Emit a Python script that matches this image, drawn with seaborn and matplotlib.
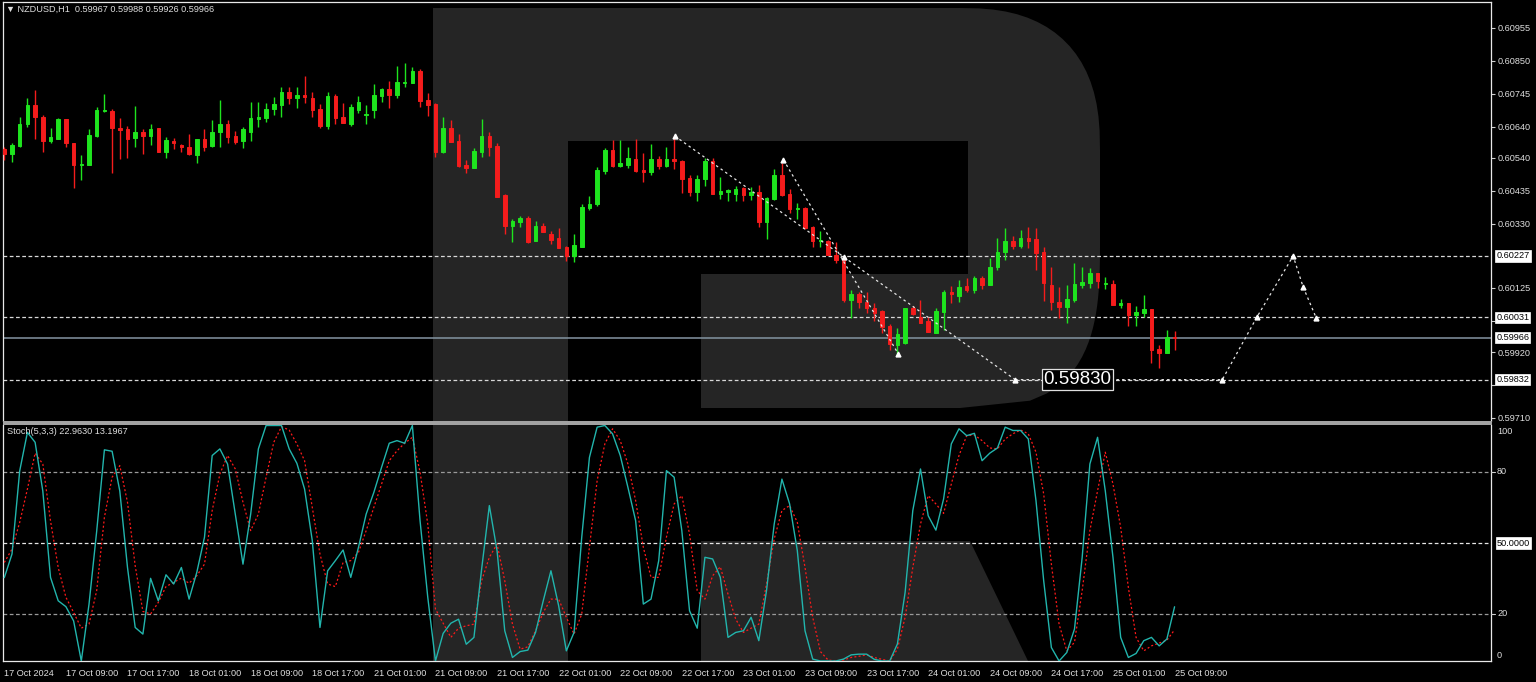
import numpy as np
import pandas as pd
import matplotlib
matplotlib.use('Agg')
import matplotlib.pyplot as plt
import matplotlib.transforms as mtransforms
from matplotlib.patches import Polygon, Rectangle
import seaborn as sns

sns.set_style('dark')
plt.rcParams['font.family'] = ['Liberation Sans', 'DejaVu Sans']

# NZDUSD H1, bars 17 Oct 01:00 .. 25 Oct 09:00 (index 0..152)
opens = [0.60568, 0.60552, 0.60578, 0.60648, 0.60709, 0.60672, 0.60594, 0.60600, 0.60663, 0.60589,
         0.60517, 0.60517, 0.60610, 0.60690, 0.60690, 0.60635, 0.60632, 0.60603, 0.60623, 0.60611,
         0.60635, 0.60559, 0.60595, 0.60581, 0.60575, 0.60550, 0.60600, 0.60579, 0.60623, 0.60650,
         0.60610, 0.60594, 0.60624, 0.60664, 0.60668, 0.60695, 0.60710, 0.60751, 0.60732, 0.60740,
         0.60733, 0.60695, 0.60642, 0.60738, 0.60671, 0.60650, 0.60693, 0.60676, 0.60693, 0.60739,
         0.60760, 0.60740, 0.60779, 0.60779, 0.60817, 0.60725, 0.60712, 0.60558, 0.60635, 0.60595,
         0.60517, 0.60509, 0.60559, 0.60610, 0.60579, 0.60422, 0.60323, 0.60334, 0.60349, 0.60275,
         0.60323, 0.60297, 0.60285, 0.60256, 0.60228, 0.60255, 0.60379, 0.60392, 0.60499, 0.60565,
         0.60515, 0.60518, 0.60537, 0.60502, 0.60494, 0.60536, 0.60515, 0.60536, 0.60530, 0.60475,
         0.60432, 0.60473, 0.60530, 0.60424, 0.60432, 0.60424, 0.60443, 0.60422, 0.60432, 0.60336,
         0.60410, 0.60485, 0.60425, 0.60376, 0.60379, 0.60318, 0.60275, 0.60275, 0.60230, 0.60214,
         0.60086, 0.60106, 0.60081, 0.60062, 0.60052, 0.60003, 0.59944, 0.59948, 0.60060, 0.60033,
         0.60019, 0.59980, 0.60049, 0.60111, 0.60099, 0.60131, 0.60118, 0.60156, 0.60134, 0.60191,
         0.60239, 0.60275, 0.60260, 0.60285, 0.60281, 0.60239, 0.60134, 0.60081, 0.60065, 0.60087,
         0.60134, 0.60142, 0.60172, 0.60137, 0.60136, 0.60070, 0.60076, 0.60039, 0.60044, 0.60057,
         0.59929, 0.59918, 0.59967]
highs = [0.60574, 0.60589, 0.60670, 0.60732, 0.60757, 0.60677, 0.60635, 0.60666, 0.60665, 0.60589,
         0.60549, 0.60632, 0.60703, 0.60744, 0.60695, 0.60668, 0.60643, 0.60706, 0.60631, 0.60650,
         0.60636, 0.60606, 0.60603, 0.60583, 0.60616, 0.60601, 0.60631, 0.60660, 0.60725, 0.60661,
         0.60626, 0.60638, 0.60718, 0.60718, 0.60716, 0.60734, 0.60765, 0.60765, 0.60767, 0.60801,
         0.60751, 0.60712, 0.60751, 0.60743, 0.60715, 0.60713, 0.60738, 0.60709, 0.60776, 0.60762,
         0.60785, 0.60833, 0.60842, 0.60829, 0.60823, 0.60749, 0.60714, 0.60672, 0.60660, 0.60616,
         0.60533, 0.60571, 0.60663, 0.60623, 0.60587, 0.60424, 0.60345, 0.60355, 0.60356, 0.60339,
         0.60333, 0.60308, 0.60317, 0.60259, 0.60296, 0.60393, 0.60419, 0.60512, 0.60571, 0.60597,
         0.60597, 0.60576, 0.60600, 0.60555, 0.60584, 0.60547, 0.60576, 0.60610, 0.60532, 0.60485,
         0.60485, 0.60539, 0.60539, 0.60480, 0.60440, 0.60451, 0.60448, 0.60448, 0.60453, 0.60415,
         0.60505, 0.60523, 0.60440, 0.60395, 0.60382, 0.60323, 0.60307, 0.60278, 0.60272, 0.60225,
         0.60118, 0.60113, 0.60113, 0.60078, 0.60054, 0.60010, 0.59996, 0.60062, 0.60068, 0.60086,
         0.60033, 0.60060, 0.60118, 0.60132, 0.60151, 0.60158, 0.60163, 0.60163, 0.60220, 0.60284,
         0.60315, 0.60291, 0.60310, 0.60320, 0.60315, 0.60256, 0.60193, 0.60129, 0.60134, 0.60204,
         0.60193, 0.60188, 0.60174, 0.60161, 0.60151, 0.60090, 0.60078, 0.60068, 0.60102, 0.60059,
         0.59943, 0.59991, 0.59988]
lows = [0.60533, 0.60528, 0.60574, 0.60640, 0.60599, 0.60559, 0.60589, 0.60600, 0.60576, 0.60445,
        0.60469, 0.60517, 0.60608, 0.60687, 0.60491, 0.60537, 0.60541, 0.60576, 0.60552, 0.60580,
        0.60559, 0.60541, 0.60567, 0.60559, 0.60549, 0.60525, 0.60562, 0.60576, 0.60576, 0.60589,
        0.60583, 0.60573, 0.60595, 0.60640, 0.60656, 0.60677, 0.60672, 0.60712, 0.60700, 0.60716,
        0.60670, 0.60635, 0.60632, 0.60649, 0.60652, 0.60642, 0.60684, 0.60648, 0.60668, 0.60719,
        0.60700, 0.60731, 0.60767, 0.60779, 0.60703, 0.60675, 0.60544, 0.60555, 0.60592, 0.60510,
        0.60491, 0.60509, 0.60544, 0.60546, 0.60414, 0.60297, 0.60272, 0.60320, 0.60269, 0.60275,
        0.60302, 0.60265, 0.60253, 0.60211, 0.60207, 0.60255, 0.60374, 0.60386, 0.60489, 0.60510,
        0.60512, 0.60509, 0.60496, 0.60464, 0.60485, 0.60504, 0.60512, 0.60504, 0.60427, 0.60418,
        0.60403, 0.60451, 0.60424, 0.60408, 0.60402, 0.60402, 0.60402, 0.60406, 0.60318, 0.60281,
        0.60406, 0.60418, 0.60365, 0.60345, 0.60313, 0.60256, 0.60256, 0.60230, 0.60204, 0.60081,
        0.60030, 0.60060, 0.60044, 0.60019, 0.59980, 0.59927, 0.59908, 0.59946, 0.60039, 0.60012,
        0.59983, 0.59980, 0.59991, 0.60076, 0.60081, 0.60113, 0.60108, 0.60122, 0.60134, 0.60182,
        0.60214, 0.60248, 0.60251, 0.60251, 0.60182, 0.60084, 0.60054, 0.60028, 0.60012, 0.60081,
        0.60124, 0.60126, 0.60126, 0.60122, 0.60070, 0.60060, 0.60003, 0.60003, 0.60031, 0.59886,
        0.59868, 0.59916, 0.59926]
closes = [0.60552, 0.60581, 0.60647, 0.60709, 0.60672, 0.60595, 0.60606, 0.60663, 0.60587, 0.60517,
          0.60521, 0.60613, 0.60693, 0.60693, 0.60636, 0.60630, 0.60600, 0.60623, 0.60611, 0.60632,
          0.60559, 0.60597, 0.60589, 0.60574, 0.60552, 0.60600, 0.60576, 0.60623, 0.60650, 0.60608,
          0.60592, 0.60632, 0.60668, 0.60672, 0.60695, 0.60713, 0.60751, 0.60732, 0.60740, 0.60735,
          0.60693, 0.60642, 0.60738, 0.60668, 0.60652, 0.60703, 0.60718, 0.60679, 0.60740, 0.60760,
          0.60741, 0.60782, 0.60782, 0.60817, 0.60722, 0.60710, 0.60558, 0.60635, 0.60592, 0.60514,
          0.60509, 0.60562, 0.60610, 0.60574, 0.60416, 0.60323, 0.60339, 0.60349, 0.60272, 0.60323,
          0.60302, 0.60278, 0.60253, 0.60227, 0.60262, 0.60382, 0.60392, 0.60501, 0.60565, 0.60515,
          0.60523, 0.60540, 0.60499, 0.60494, 0.60536, 0.60515, 0.60536, 0.60530, 0.60473, 0.60432,
          0.60472, 0.60530, 0.60424, 0.60434, 0.60437, 0.60440, 0.60422, 0.60432, 0.60334, 0.60413,
          0.60485, 0.60422, 0.60376, 0.60379, 0.60317, 0.60275, 0.60278, 0.60230, 0.60214, 0.60086,
          0.60106, 0.60081, 0.60060, 0.60046, 0.60001, 0.59946, 0.59978, 0.60060, 0.60041, 0.60014,
          0.59983, 0.60052, 0.60113, 0.60106, 0.60129, 0.60118, 0.60158, 0.60134, 0.60193, 0.60241,
          0.60275, 0.60260, 0.60283, 0.60275, 0.60235, 0.60140, 0.60081, 0.60065, 0.60090, 0.60136,
          0.60145, 0.60172, 0.60147, 0.60142, 0.60070, 0.60076, 0.60039, 0.60049, 0.60057, 0.59927,
          0.59918, 0.59967, 0.59966]

# Stoch(5,3,3): main line and signal line
stoch_k = [35.3, 45.3, 80.5, 96.8, 92.6, 72.0, 35.4, 25.5, 23.0, 17.0, 0.0, 24.0, 55.0, 89.4, 88.8,
           72.0, 39.6, 14.2, 11.4, 35.0, 25.5, 36.5, 32.6, 39.6, 26.2, 37.5, 52.4, 87.0, 89.8, 83.4,
           62.2, 41.0, 62.2, 89.8, 99.7, 99.7, 99.7, 89.8, 83.7, 72.8, 51.0, 14.2, 38.2, 42.5, 47.0,
           35.4, 48.1, 62.2, 71.4, 82.0, 92.2, 93.3, 92.2, 99.7, 59.4, 27.0, 0.0, 11.7, 16.0, 17.7,
           7.1, 10.0, 39.0, 65.8, 46.7, 12.8, 1.5, 4.0, 4.6, 12.1, 25.5, 38.2, 23.4, 4.3, 12.1,
           52.4, 86.2, 99.0, 99.7, 96.2, 87.0, 73.5, 59.4, 24.1, 26.2, 42.5, 80.6, 77.8, 55.2, 21.3,
           13.9, 43.9, 43.2, 35.4, 10.0, 12.1, 12.8, 18.5, 8.6, 29.8, 58.0, 77.0, 66.5, 46.7, 12.8,
           0.8, 0.0, 0.0, 0.0, 0.8, 2.6, 2.9, 2.9, 0.7, 0.0, 0.0, 7.2, 29.0, 63.7, 81.3,
           61.5, 55.4, 68.6, 91.9, 98.3, 95.4, 96.4, 84.8, 88.0, 90.2, 99.0, 97.6, 97.6, 94.0, 67.9,
           34.0, 5.7, 0.0, 3.6, 13.5, 43.9, 83.4, 94.7, 72.1, 43.9, 10.0, 1.5, 3.2, 8.6, 10.0,
           6.4, 9.3, 22.96]
stoch_d = [41.7, 47.4, 58.7, 72.8, 88.0, 83.4, 59.4, 39.6, 27.0, 20.6, 13.9, 15.6, 29.8, 60.8, 77.8,
           82.7, 67.2, 40.3, 21.0, 19.9, 24.8, 31.5, 33.3, 35.1, 32.9, 36.1, 41.0, 63.7, 79.2, 87.0,
           81.3, 67.2, 55.2, 62.2, 77.8, 92.6, 99.2, 97.8, 91.9, 84.8, 65.0, 45.3, 32.6, 31.5, 41.7,
           42.5, 46.0, 55.2, 65.0, 74.9, 84.8, 89.0, 92.2, 94.7, 80.0, 58.0, 22.0, 16.0, 10.0, 13.9,
           14.9, 15.6, 34.0, 43.9, 49.5, 34.0, 15.6, 5.0, 6.0, 12.8, 20.6, 26.2, 26.2, 18.5, 11.4,
           19.9, 48.1, 76.4, 91.9, 98.3, 93.3, 83.4, 67.9, 48.1, 35.4, 35.4, 52.4, 66.5, 70.0, 53.8,
           29.8, 26.2, 36.1, 39.9, 28.3, 17.7, 12.1, 13.9, 15.6, 32.6, 51.7, 63.7, 65.8, 58.7, 39.6,
           18.5, 4.0, 0.4, 0.0, 0.4, 1.5, 2.0, 2.6, 1.5, 0.7, 0.0, 5.0, 18.5, 39.6, 58.0,
           70.0, 66.5, 62.5, 74.9, 87.0, 95.4, 95.7, 93.3, 90.2, 89.8, 94.0, 96.2, 97.8, 96.2, 88.4,
           70.7, 41.0, 15.6, 4.3, 7.9, 29.8, 55.2, 72.1, 88.4, 74.9, 56.6, 31.1, 10.0, 4.3, 6.4,
           7.6, 8.8, 13.2]

tick_bars = [0, 8, 16, 24, 32, 40, 48, 56, 64, 72, 80, 88, 96, 104, 112, 120, 128, 136, 144, 152]
tick_labels = ['17 Oct 2024', '17 Oct 09:00', '17 Oct 17:00', '18 Oct 01:00', '18 Oct 09:00',
               '18 Oct 17:00', '21 Oct 01:00', '21 Oct 09:00', '21 Oct 17:00', '22 Oct 01:00',
               '22 Oct 09:00', '22 Oct 17:00', '23 Oct 01:00', '23 Oct 09:00', '23 Oct 17:00',
               '24 Oct 01:00', '24 Oct 09:00', '24 Oct 17:00', '25 Oct 01:00', '25 Oct 09:00']
price_ticks = [0.60955, 0.60850, 0.60745, 0.60640, 0.60540, 0.60435, 0.60330,
               0.60125, 0.60020, 0.59920, 0.59815, 0.59710]
hidden_ticks = [0.60020, 0.59815]  # covered by the line labels
level_lines = [0.60227, 0.60031, 0.59832]
bid_price = 0.59966

# analysis drawings (bar index, price)
trend_a_bar = [87.1, 131.3]
trend_a_price = [0.60610, 0.59832]
trend_b_bar = [101.2, 116.1]
trend_b_price = [0.60534, 0.59915]
path_bar = [131.3, 158.2, 162.7, 167.4, 168.7, 170.4]
path_price = [0.59832, 0.59832, 0.60032, 0.60227, 0.60128, 0.60029]
mark_bar = [87.1, 101.2, 109.0, 116.1, 131.3, 158.2, 162.7, 167.4, 168.7, 170.4]
mark_price = [0.60610, 0.60534, 0.60224, 0.59915, 0.59832, 0.59832, 0.60032, 0.60227, 0.60128, 0.60029]
target_bar, target_price, target_text = 139.4, 0.59832, '0.59830'

W, H = 1536, 682
GREEN, RED = '#1ee41e', '#f41c1c'
TXT = '#dedede'
WM = '#252525'


def rect(l, t, r, b):
    return [l / W, 1 - b / H, (r - l) / W, (b - t) / H]


def fpt(x, y):
    return (x / W, 1 - y / H)


fig = plt.figure(figsize=(W / 100, H / 100), dpi=100, facecolor='black')

# watermark logo behind the chart
bowl = [(433, 8), (960, 8)]
for t in np.linspace(0, 1, 20):
    a = t * np.pi / 2
    bowl.append((960 + 140 * np.sin(a) ** 0.8, 150 - 142 * np.cos(a) ** 0.8))
for t in np.linspace(0, 1, 24):
    bowl.append((960 + 140 * (1 - t ** 3) ** (1 / 3), 240 + 168 * t))
bowl += [(701, 408), (701, 274), (968, 274), (968, 141), (568, 141), (568, 661), (433, 661)]
fig.add_artist(Polygon([fpt(*p) for p in bowl], closed=True, fc=WM, ec='none',
                       transform=fig.transFigure, zorder=-10))
leg = [(701, 541), (970, 541), (1028, 661), (701, 661)]
fig.add_artist(Polygon([fpt(*p) for p in leg], closed=True, fc=WM, ec='none',
                       transform=fig.transFigure, zorder=-10))

ax = fig.add_axes(rect(3, 2, 1491, 421))
ax2 = fig.add_axes(rect(3, 424.8, 1491, 661))
for a in (ax, ax2):
    a.set_facecolor('none')
    a.grid(False)
    a.set_xlim(-0.17, 193.1)
    for s in a.spines.values():
        s.set_color('#e8e8e8')
        s.set_linewidth(0.9)

# ---- candles
df = pd.DataFrame({'bar': np.arange(len(opens)), 'open': opens, 'high': highs,
                   'low': lows, 'close': closes})
cols = np.where(df['close'] >= df['open'], GREEN, RED)
ax.vlines(df['bar'], df['low'], df['high'], colors=cols, lw=1.0, zorder=3)
body = (df['close'] - df['open']).abs().clip(lower=1e-6)
ax.bar(df['bar'], body, bottom=df[['open', 'close']].min(axis=1), width=0.46,
       color=cols, edgecolor=cols, linewidth=0.7, zorder=4)

dash = (0, (3, 2))
for lv in level_lines:
    ax.axhline(lv, color='#d8d8d8', lw=0.9, ls=dash, zorder=2)
ax.axhline(bid_price, color='#8494a2', lw=1.1, zorder=2)

ax.plot(trend_a_bar, trend_a_price, color='#e4e4e4', lw=0.9, ls=(0, (2, 2.5)), zorder=5)
ax.plot(trend_b_bar, trend_b_price, color='#e4e4e4', lw=0.9, ls=(0, (2, 2.5)), zorder=5)
ax.plot(path_bar, path_price, color='#e4e4e4', lw=0.9, ls=(0, (2, 2.5)), zorder=5)
ax.plot(mark_bar, mark_price, ls='none', marker='^', ms=3.5, color='white', zorder=6)
ax.text(target_bar, target_price, target_text, color='white', fontsize=13.5,
        ha='center', va='center', zorder=7,
        bbox=dict(boxstyle='square,pad=0.1', fc='black', ec='#e0e0e0', lw=0.9))

ax.set_ylim(0.59700, 0.61038)
ax.set_xticks([])
ax.yaxis.tick_right()
ax.set_yticks(price_ticks)
ax.set_yticklabels(['' if p in hidden_ticks else f'{p:.5f}' for p in price_ticks])
ax.tick_params(axis='y', colors='#cfcfcf', labelcolor=TXT, labelsize=6.6, length=3,
               direction='out', pad=2, width=0.8)
ax.spines['bottom'].set_visible(False)

lab_tr = mtransforms.blended_transform_factory(ax.transAxes, ax.transData)
for lv in level_lines + [bid_price]:
    ax.text(1.0035, lv, f'{lv:.5f}', transform=lab_tr, fontsize=6.6, color='black',
            ha='left', va='center', clip_on=False, zorder=8,
            bbox=dict(boxstyle='square,pad=0.12', fc='white', ec='white', lw=0.5))

fig.text(6 / W, 1 - 9.5 / H, '\u25bc NZDUSD,H1  0.59967 0.59988 0.59926 0.59966',
         color=TXT, fontsize=6.6, va='center', ha='left')

# ---- stochastic window
sdf = pd.DataFrame({'bar': np.arange(len(stoch_k)), 'K': stoch_k, 'D': stoch_d})
for lv, c in [(80, '#9a9a9a'), (50, '#e6e6e6'), (20, '#9a9a9a')]:
    ax2.axhline(lv, color=c, lw=0.9, ls=dash, zorder=1)
sns.lineplot(data=sdf, x='bar', y='D', ax=ax2, color='#ff1a1a', lw=0.9,
             linestyle=(0, (1.6, 1.8)), zorder=3)
sns.lineplot(data=sdf, x='bar', y='K', ax=ax2, color='#22b5ad', lw=1.0, zorder=4)
ax2.set_ylim(0, 100)
ax2.set_xlabel('')
ax2.set_ylabel('')
ax2.set_yticks([])
ax2.spines['top'].set_visible(False)
ax2.set_xticks(tick_bars)
ax2.set_xticklabels(tick_labels)
ax2.tick_params(axis='x', colors='#cfcfcf', labelcolor=TXT, labelsize=6.6, length=4,
                direction='out', pad=1.5, width=0.8)
for t in ax2.get_xticklabels():
    t.set_ha('left')

for txt, yp in [('100', 431), ('80', 472), ('20', 614), ('0', 655)]:
    fig.text(1497 / W, 1 - yp / H, txt, color=TXT, fontsize=6.6, va='center', ha='left')
for yp in (472, 614):
    fig.add_artist(plt.Line2D([1491 / W, 1495 / W], [1 - yp / H] * 2, color='#cfcfcf',
                              lw=0.8, transform=fig.transFigure))
fig.text(1497 / W, 1 - 543 / H, '50.0000', color='black', fontsize=6.6, va='center', ha='left',
         bbox=dict(boxstyle='square,pad=0.12', fc='white', ec='white', lw=0.5))
fig.text(7 / W, 1 - 432 / H, 'Stoch(5,3,3) 22.9630 13.1967', color=TXT, fontsize=6.6,
         va='center', ha='left')

# window separator
fig.add_artist(Rectangle(fpt(3, 424.5), 1489 / W, 3.5 / H, transform=fig.transFigure,
                         fc='#a2a2a2', ec='none', zorder=20))

fig.savefig('out.png', dpi=100, facecolor='black')
